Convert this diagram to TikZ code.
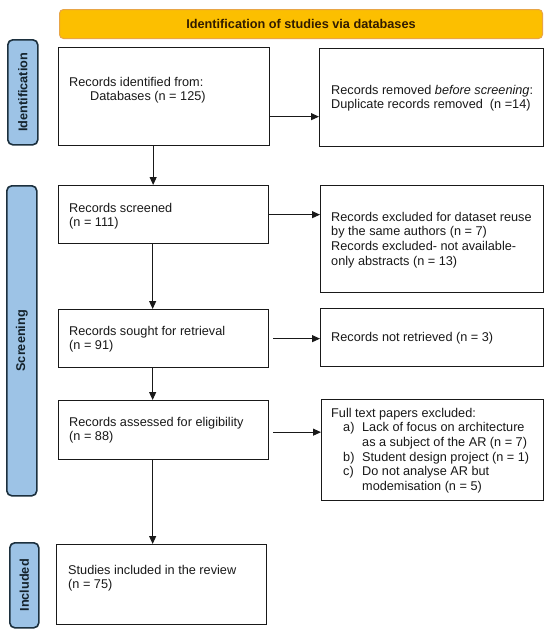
\documentclass[tikz,border=0pt]{standalone}
\usepackage{fontspec}
\setmainfont{Liberation Sans}
\usetikzlibrary{arrows.meta}
\definecolor{gold}{RGB}{252,191,0}
\definecolor{goldedge}{RGB}{232,165,70}
\definecolor{sidefill}{RGB}{157,195,230}
\definecolor{sideedge}{RGB}{28,48,62}
\definecolor{ink}{RGB}{25,25,25}
\definecolor{headink}{RGB}{50,28,0}
\begin{document}
\begin{tikzpicture}[x=1pt,y=-1pt,
  every node/.style={font=\fontsize{12.7pt}{14.7pt}\selectfont, text=ink},
  box/.style={draw=ink, line width=1.3pt, inner sep=0pt, anchor=north west},
  txt/.style={anchor=north west, inner sep=0pt, align=left},
  side/.style={draw=sideedge, fill=sidefill, line width=1.6pt, rounded corners=5pt, inner sep=0pt, anchor=north west},
  sidetxt/.style={rotate=90, inner sep=0pt, font=\bfseries\fontsize{12.7pt}{14.7pt}\selectfont, text=sideedge!70!black},
  arr/.style={draw=ink, line width=1pt, -{Triangle[length=8pt,width=7pt]}}
]
\useasboundingbox[fill=white] (0,0) rectangle (550,633);

% header
\node[draw=goldedge, fill=gold, line width=1pt, rounded corners=4pt, inner sep=0pt,
      anchor=north west, minimum width=483pt, minimum height=29pt] (hdr) at (59,9) {};
\node[inner sep=0pt, font=\bfseries\fontsize{12.7pt}{14.7pt}\selectfont, text=headink] (hdrtxt) at (hdr.center) {Identification of studies via databases};

% side labels
\node[side, minimum width=30pt, minimum height=105pt] (s1) at (7,39) {};
\node[sidetxt] (s1t) at (s1.center) {Identification};
\node[side, minimum width=30pt, minimum height=310pt] (s2) at (6,185) {};
\node[sidetxt] (s2t) at (s2.center) {Screening};
\node[side, minimum width=29pt, minimum height=85pt] (s3) at (9,542) {};
\node[sidetxt] (s3t) at (s3.center) {Included};

% boxes
\node[box, minimum width=211pt, minimum height=98pt] (b1) at (58,47) {};
\node[box, minimum width=224pt, minimum height=98pt] (b2) at (319,48) {};
\node[box, minimum width=210pt, minimum height=58pt] (b3) at (58,185) {};
\node[box, minimum width=223pt, minimum height=107pt] (b4) at (320,185) {};
\node[box, minimum width=210pt, minimum height=58pt] (b5) at (58,309) {};
\node[box, minimum width=223pt, minimum height=58pt] (b6) at (320,308) {};
\node[box, minimum width=210pt, minimum height=59pt] (b7) at (58,400) {};
\node[box, minimum width=222pt, minimum height=101pt] (b8) at (321,399) {};
\node[box, minimum width=210pt, minimum height=80pt] (b9) at (56,544) {};

% texts
\node[txt] (t1) at (69,76.7) {Records identified from:\\\hspace*{21pt}Databases (n = 125)};
\node[txt] (t2) at (331,84.7) {Records removed \textit{before screening}:\\Duplicate records removed\ \ (n =14)};
\node[txt] (t3) at (69,202.7) {Records screened\\(n = 111)};
\node[txt] (t4) at (331,211.7) {Records excluded for dataset reuse\\by the same authors (n = 7)\\Records excluded- not available-\\only abstracts (n = 13)};
\node[txt] (t5) at (69,325.7) {Records sought for retrieval\\(n = 91)};
\node[txt] (t6) at (331,331.7) {Records not retrieved (n = 3)};
\node[txt] (t7) at (69,416.7) {Records assessed for eligibility\\(n = 88)};
\node[txt] (t8) at (331,407.7) {Full text papers excluded:\\
  \hspace*{12pt}\makebox[19pt][l]{a)}Lack of focus on architecture\\
  \hspace*{31pt}as a subject of the AR (n = 7)\\
  \hspace*{12pt}\makebox[19pt][l]{b)}Student design project (n = 1)\\
  \hspace*{12pt}\makebox[19pt][l]{c)}Do not analyse AR but\\
  \hspace*{31pt}modemisation (n = 5)};
\node[txt] (t9) at (68,564.7) {Studies included in the review\\(n = 75)};

% connectors
\draw[arr] ([yshift=-20pt]b1.east) -- ([yshift=-20pt]b1.east -| b2.west);
\draw[arr] ([xshift=-11pt]b1.south) -- ([xshift=-11pt]b1.south |- b3.north);
\draw[arr] (b3.east) -- (b3.east -| b4.west);
\draw[arr] ([xshift=-11pt]b3.south) -- ([xshift=-11pt]b3.south |- b5.north);
\draw[arr, shorten <=4pt] (b5.east) -- (b5.east -| b6.west);
\draw[arr] ([xshift=-11pt]b5.south) -- ([xshift=-11pt]b5.south |- b7.north);
\draw[arr, shorten <=4pt] ([yshift=-2pt]b7.east) -- ([yshift=-2pt]b7.east -| b8.west);
\draw[arr] ([xshift=-11pt]b7.south) -- ([xshift=-11pt]b7.south |- b9.north);
\end{tikzpicture}
\end{document}
